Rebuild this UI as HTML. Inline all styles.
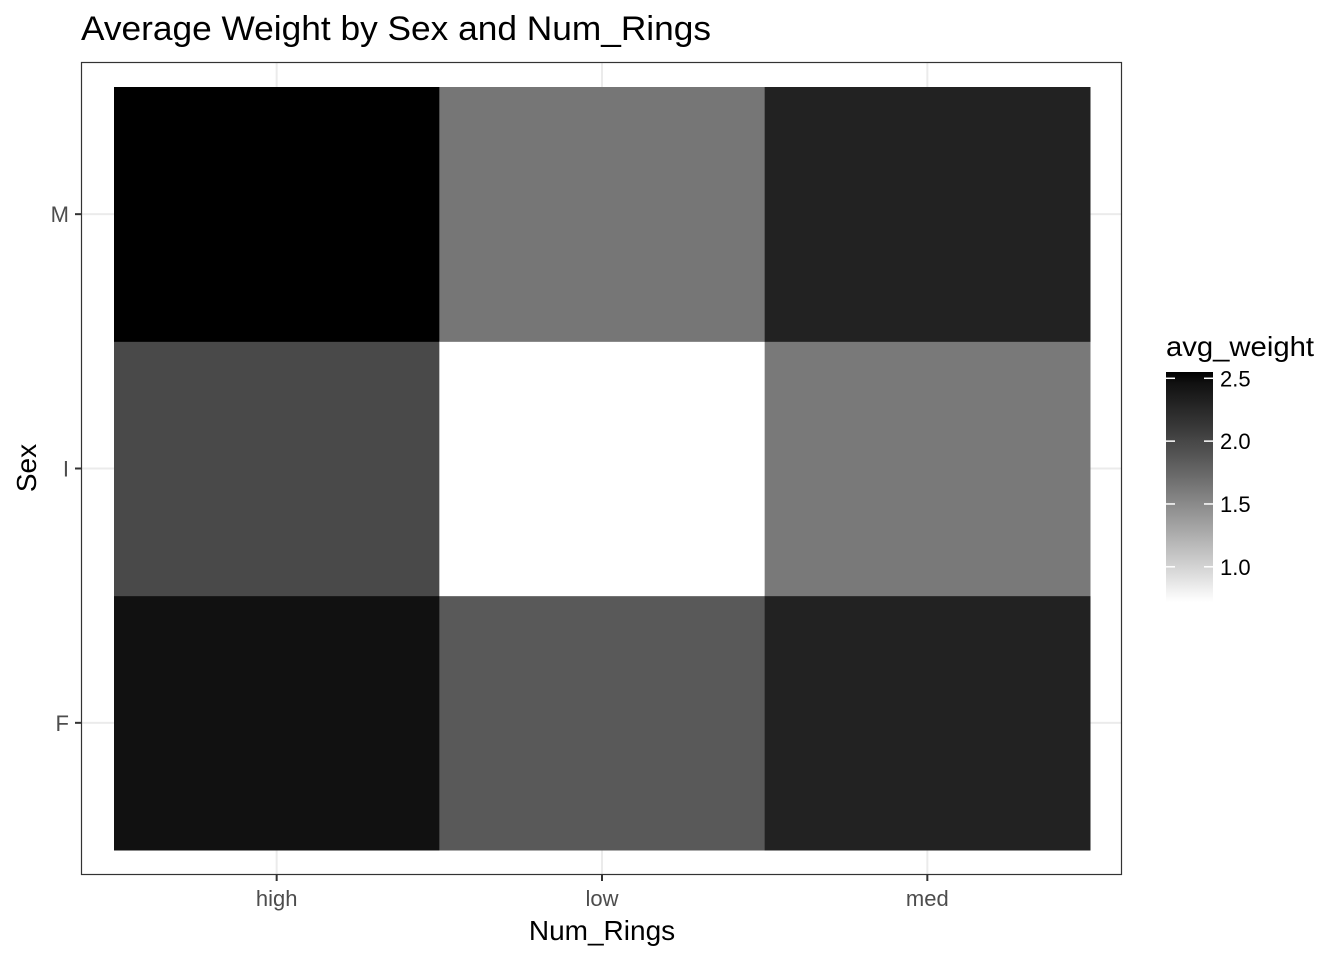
<!DOCTYPE html>
<html><head><meta charset="utf-8"><style>
body{margin:0;background:#fff;font-family:"Liberation Sans",Arial,sans-serif}
</style></head><body>
<svg id="chart" width="1344" height="960" xmlns="http://www.w3.org/2000/svg" font-family="Liberation Sans, Arial, sans-serif">
<defs><linearGradient id="lg" x1="0" y1="1" x2="0" y2="0"></linearGradient></defs>
<rect width="1344" height="960" fill="#fff"/>
<text x="81" y="40" font-size="34" textLength="630" lengthAdjust="spacingAndGlyphs" fill="#000">Average Weight by Sex and Num_Rings</text>
<g id="grid"></g>
<g id="tiles"></g>
<rect x="81.5" y="62.5" width="1040" height="812" fill="none" stroke="#333" stroke-width="1.2"/>
<g id="axes"></g>
<text x="602" y="940" font-size="28" text-anchor="middle">Num_Rings</text>
<text transform="translate(36,468) rotate(-90)" font-size="28" text-anchor="middle">Sex</text>
<g id="legend">
<text x="1166" y="356" font-size="28" textLength="148" lengthAdjust="spacingAndGlyphs">avg_weight</text>
</g>
</svg>
<script>
const xCats=["high","low","med"];
const yCats=["F","I","M"];
const valHigh=[2.46,1.98,2.55]; // F, I, M
const valLow=[1.86,0.72,1.64];
const valMed=[2.31,1.62,2.31];
const legendTicks=[1.0,1.5,2.0,2.5];
const series=[valHigh,valLow,valMed];
const NS="http://www.w3.org/2000/svg";
const px0=114,px1=1090,py0=87,py1=850;
const cw=(px1-px0)/xCats.length,ch=(py1-py0)/yCats.length;
const xPos=i=>px0+cw*i, yPos=j=>py1-ch*(j+1);
const all=series.flat();const vmin=Math.min(...all),vmax=Math.max(...all);
function gray(v){const t=(v-vmin)/(vmax-vmin);const L=100*(1-t);
 let Y=L>8?Math.pow((L+16)/116,3):L/903.3;
 let s=Y<=0.0031308?12.92*Y:1.055*Math.pow(Y,1/2.4)-0.055;
 const g=Math.round(Math.max(0,Math.min(1,s))*255);return `rgb(${g},${g},${g})`;}
function mk(tag,attrs,parent){const e=document.createElementNS(NS,tag);for(const k in attrs)e.setAttribute(k,attrs[k]);parent.appendChild(e);return e;}
const grid=document.getElementById('grid'),tiles=document.getElementById('tiles'),axes=document.getElementById('axes');
xCats.forEach((c,i)=>{const x=xPos(i)+cw/2;
 const l=mk('line',{x1:x,x2:x,y1:63,y2:874,stroke:'#ebebeb','stroke-width':2},grid);
 
 const t=mk('line',{x1:x,x2:x,y1:875,y2:881,stroke:'#333','stroke-width':2},axes);
 
 const tx=mk('text',{x:x,y:906,'font-size':22,fill:'#4d4d4d','text-anchor':'middle'},axes);tx.textContent=c;
 });
yCats.forEach((c,j)=>{const y=yPos(j)+ch/2;
 const l=mk('line',{x1:82,x2:1121,y1:y,y2:y,stroke:'#ebebeb','stroke-width':2},grid);
 
 const t=mk('line',{x1:75,x2:81,y1:y,y2:y,stroke:'#333','stroke-width':2},axes);
 
 const tx=mk('text',{x:69,y:y+8,'font-size':22,fill:'#4d4d4d','text-anchor':'end'},axes);tx.textContent=c;
 });
series.forEach((vals,i)=>vals.forEach((v,j)=>{
 const r=mk('rect',{x:xPos(i),y:yPos(j),width:cw+0.5,height:ch+0.5,fill:gray(v)},tiles);
 }));
const lg=document.getElementById('lg');
for(let k=0;k<=20;k++){const v=vmin+(vmax-vmin)*k/20;mk('stop',{offset:(k/20),'stop-color':gray(v)},lg);}
const legend=document.getElementById('legend');
const bTop=372,bBot=602,bx=1166,bw=47;
const ly=v=>bBot-(v-vmin)/(vmax-vmin)*(bBot-bTop);
const bar=mk('rect',{x:bx,y:bTop,width:bw,height:bBot-bTop,fill:'url(#lg)'},legend);

legendTicks.forEach(v=>{const y=ly(v);
 mk('line',{x1:bx,x2:bx+9,y1:y,y2:y,stroke:'#fff','stroke-width':1.5},legend);
 mk('line',{x1:bx+bw-9,x2:bx+bw,y1:y,y2:y,stroke:'#fff','stroke-width':1.5},legend);
 const t=mk('text',{x:1220,y:y+8,'font-size':22,fill:'#000'},legend);t.textContent=v.toFixed(1);
 });
</script>
</body></html>
